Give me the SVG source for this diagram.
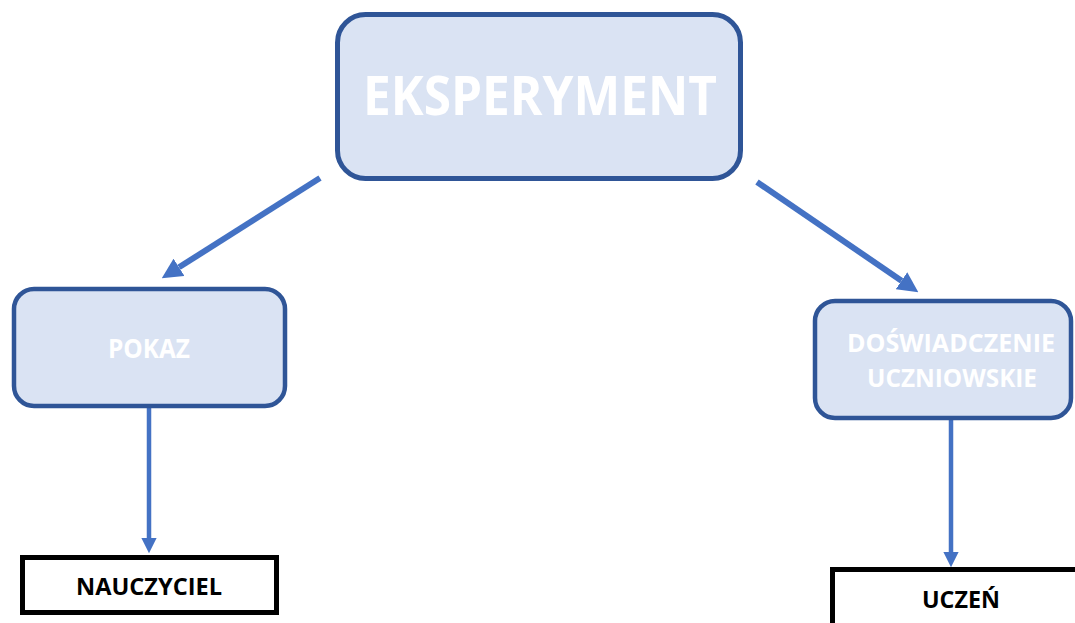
<svg xmlns="http://www.w3.org/2000/svg" width="1075" height="623" viewBox="0 0 1075 623">
  <defs>
    <style>
      .box { fill: #DAE3F3; stroke: #2F5597; }
      .plain { fill: #FFFFFF; stroke: #000000; stroke-width: 5; }
      .light { fill: #FFFFFF; font-family: "Open Sans", "Liberation Sans", sans-serif; font-weight: bold; text-anchor: middle; }
      .dark { fill: #000000; font-family: "Open Sans", "Liberation Sans", sans-serif; font-weight: bold; text-anchor: middle; }
      .link { fill: none; stroke: #4472C4; marker-end: url(#head); }
    </style>
    <marker id="head" viewBox="0 0 10 10" refX="0" refY="5" markerWidth="3.4" markerHeight="3.4" markerUnits="strokeWidth" orient="auto">
      <path d="M0,0 L10,5 L0,10 z" fill="#4472C4"/>
    </marker>
  </defs>

  <rect width="1075" height="623" fill="#FFFFFF"/>

  <!-- connectors -->
  <g id="connectors">
    <line class="link" x1="320" y1="178" x2="179" y2="267.3" stroke-width="6"/>
    <line class="link" x1="757" y1="182" x2="901.5" y2="280.7" stroke-width="6"/>
    <line class="link" x1="149" y1="407" x2="149" y2="538" stroke-width="4.5"/>
    <line class="link" x1="951" y1="419" x2="951" y2="552" stroke-width="4.5"/>
  </g>

  <!-- root node -->
  <g id="eksperyment">
    <rect class="box" x="337.5" y="14.5" width="403" height="164" rx="28" stroke-width="5"/>
    <text class="light" x="540" y="115" font-size="54" textLength="354" lengthAdjust="spacingAndGlyphs">EKSPERYMENT</text>
  </g>

  <!-- left branch -->
  <g id="pokaz">
    <rect class="box" x="14" y="289" width="271" height="117" rx="20" stroke-width="4.5"/>
    <text class="light" x="149" y="358" font-size="26" textLength="82" lengthAdjust="spacingAndGlyphs">POKAZ</text>
  </g>

  <!-- right branch -->
  <g id="doswiadczenie">
    <rect class="box" x="815" y="301" width="256" height="117" rx="20" stroke-width="4.5"/>
    <text class="light" x="951" y="352" font-size="25" textLength="208" lengthAdjust="spacingAndGlyphs">DOŚWIADCZENIE</text>
    <text class="light" x="952" y="387" font-size="25" textLength="170" lengthAdjust="spacingAndGlyphs">UCZNIOWSKIE</text>
  </g>

  <!-- leaves -->
  <g id="nauczyciel">
    <rect class="plain" x="22.5" y="557.5" width="254" height="55"/>
    <text class="dark" x="149" y="595" font-size="23" textLength="146" lengthAdjust="spacingAndGlyphs">NAUCZYCIEL</text>
  </g>

  <g id="uczen">
    <rect class="plain" x="832.5" y="569.5" width="260" height="80"/>
    <text class="dark" x="961" y="608" font-size="23" textLength="78" lengthAdjust="spacingAndGlyphs">UCZEŃ</text>
  </g>
</svg>
